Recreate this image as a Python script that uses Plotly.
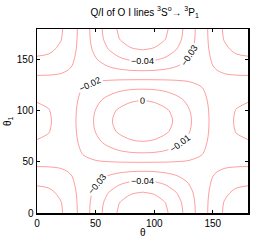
import plotly.graph_objects as go

# Angles (degrees) of the quadrant grid; the field is symmetric about 90 deg in both angles
theta_quadrant = [0, 10, 20, 30, 40, 50, 60, 70, 80, 90]
theta1_quadrant = [0, 10, 20, 30, 40, 50, 60, 70, 80, 90]

# Q/I values, rows = theta1 (0..90), columns = theta (0..90)
qi_row_000 = [-0.0020, -0.0037, -0.0086, -0.0160, -0.0251, -0.0349, -0.0440, -0.0514, -0.0563, -0.0580]
qi_row_010 = [-0.0032, -0.0048, -0.0094, -0.0164, -0.0251, -0.0342, -0.0428, -0.0498, -0.0544, -0.0560]
qi_row_020 = [-0.0067, -0.0080, -0.0118, -0.0176, -0.0247, -0.0323, -0.0394, -0.0452, -0.0490, -0.0503]
qi_row_030 = [-0.0117, -0.0126, -0.0152, -0.0192, -0.0240, -0.0292, -0.0341, -0.0381, -0.0407, -0.0416]
qi_row_040 = [-0.0172, -0.0176, -0.0188, -0.0206, -0.0229, -0.0252, -0.0275, -0.0293, -0.0305, -0.0309]
qi_row_050 = [-0.0224, -0.0223, -0.0221, -0.0217, -0.0212, -0.0207, -0.0202, -0.0198, -0.0196, -0.0195]
qi_row_060 = [-0.0267, -0.0261, -0.0246, -0.0222, -0.0193, -0.0162, -0.0133, -0.0109, -0.0093, -0.0088]
qi_row_070 = [-0.0297, -0.0288, -0.0262, -0.0223, -0.0175, -0.0123, -0.0075, -0.0035, -0.0010, -0.0001]
qi_row_080 = [-0.0314, -0.0303, -0.0271, -0.0222, -0.0161, -0.0097, -0.0036, 0.0013, 0.0045, 0.0056]
qi_row_090 = [-0.0320, -0.0308, -0.0274, -0.0221, -0.0156, -0.0088, -0.0023, 0.0030, 0.0064, 0.0076]

quadrant = [qi_row_000, qi_row_010, qi_row_020, qi_row_030, qi_row_040,
            qi_row_050, qi_row_060, qi_row_070, qi_row_080, qi_row_090]

x_tick_values = [0, 50, 100, 150]
y_tick_values = [0, 50, 100, 150]
contour_levels = dict(start=-0.05, end=0.0005, size=0.01)

# full 0..180 grid built from the quadrant by its symmetry
theta = theta_quadrant + [180 - t for t in reversed(theta_quadrant[:-1])]
theta1 = theta1_quadrant + [180 - t for t in reversed(theta1_quadrant[:-1])]
N = len(theta)
z = []
for j in range(N):
    row = quadrant[min(j, N - 1 - j)]
    z.append([row[min(i, N - 1 - i)] for i in range(N)])

font_family = "Liberation Sans, Arial, Helvetica, sans-serif"

fig = go.Figure(
    go.Contour(
        x=theta,
        y=theta1,
        z=z,
        autocontour=False,
        contours=dict(
            start=contour_levels["start"],
            end=contour_levels["end"],
            size=contour_levels["size"],
            coloring="lines",
            showlabels=True,
            labelfont=dict(size=9, color="black", family=font_family),
        ),
        colorscale=[[0, "rgb(255,60,60)"], [1, "rgb(255,60,60)"]],
        showscale=False,
        line=dict(width=0.5, smoothing=1.0),
        hoverinfo="skip",
    )
)

axis_common = dict(
    showline=True,
    linecolor="black",
    linewidth=1.5,
    mirror="ticks",
    ticks="inside",
    ticklen=3,
    tickwidth=1,
    tickcolor="black",
    showgrid=False,
    zeroline=False,
    automargin=False,
    tickfont=dict(size=10, color="black", family=font_family),
)

fig.update_layout(
    width=274,
    height=242,
    margin=dict(l=37, r=26, t=29, b=29),
    paper_bgcolor="white",
    plot_bgcolor="white",
    font=dict(family=font_family, color="black", size=10),
    title=dict(
        text="Q/I of O I lines <sup>3</sup>S<sup>o</sup>\u2192 <sup>3</sup>P<sub>1</sub>",
        x=0.51,
        xref="paper",
        xanchor="center",
        y=0.95,
        yref="container",
        yanchor="middle",
        font=dict(size=10, color="black", family=font_family),
    ),
    xaxis=dict(range=[0, 180], tickvals=x_tick_values, **axis_common),
    yaxis=dict(range=[0, 180], tickvals=y_tick_values, **axis_common),
    annotations=[
        dict(
            text="\u03b8",
            xref="paper", yref="paper",
            x=0.5, y=0, yshift=-19,
            xanchor="center", yanchor="middle",
            showarrow=False,
            font=dict(size=10, color="black", family=font_family),
        ),
        dict(
            text="\u03b8<sub>1</sub>",
            xref="paper", yref="paper",
            x=0, y=0.5, xshift=-29,
            xanchor="center", yanchor="middle",
            textangle=-90,
            showarrow=False,
            font=dict(size=10, color="black", family=font_family),
        ),
    ],
)

# the page body's default margin would offset the figure inside the 274x242 window
fig.write_html(
    "out.html",
    config={"displayModeBar": False, "staticPlot": True},
    post_script="document.body.style.margin='0px';",
)
